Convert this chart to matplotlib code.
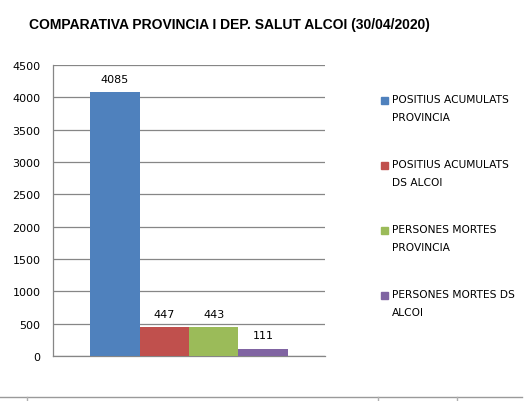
import numpy as np
import matplotlib.pyplot as plt
from matplotlib.patches import Rectangle
from matplotlib.lines import Line2D

# dades
series = ["POSITIUS ACUMULATS\nPROVINCIA", "POSITIUS ACUMULATS\nDS ALCOI",
          "PERSONES MORTES\nPROVINCIA", "PERSONES MORTES DS\nALCOI"]
values = [4085, 447, 443, 111]
colors = ["#4F81BD", "#C0504D", "#9BBB59", "#8064A2"]
yticks = [0, 500, 1000, 1500, 2000, 2500, 3000, 3500, 4000, 4500]

W, H = 531, 402
fig = plt.figure(figsize=(W / 100, H / 100), dpi=100)
ax = fig.add_axes([53 / W, 1 - 357 / H, 272 / W, 291 / H])

offsets = np.arange(len(values)) - (len(values) - 1) / 2
bars = ax.bar(offsets, values, width=1.0, color=colors, zorder=3)
for b, v in zip(bars, values):
    ax.annotate(str(v), (b.get_x() + b.get_width() / 2, v), xytext=(0, 6),
                textcoords="offset points", ha="center", va="bottom", fontsize=8)

ax.set_xlim(-2.75, 2.75)
ax.set_ylim(0, 4500)
ax.set_yticks(yticks)
ax.set_xticks([])
ax.tick_params(axis="y", length=0, labelsize=8, pad=9)
ax.grid(axis="y", color="#868686", linewidth=0.9, zorder=0)
for s in ["top", "right"]:
    ax.spines[s].set_visible(False)
for s in ["left", "bottom"]:
    ax.spines[s].set_color("#868686")
    ax.spines[s].set_linewidth(0.9)

fig.text(29 / W, 1 - 25 / H, "COMPARATIVA PROVINCIA I DEP. SALUT ALCOI (30/04/2020)",
         fontsize=10, fontweight="bold", family="Liberation Sans", va="center", ha="left")

# llegenda manual (quadre alineat amb la primera línia)
for i, (lab, c) in enumerate(zip(series, colors)):
    y = 101 + 65 * i
    fig.add_artist(Rectangle((381 / W, 1 - (y + 3.5) / H), 7 / W, 7 / H,
                             transform=fig.transFigure, color=c))
    fig.text(392 / W, 1 - (y - 6) / H, lab, fontsize=7.7, va="top", ha="left",
             linespacing=1.95)

# línia inferior del full
fig.add_artist(Line2D([0, 522 / W], [1 - 398 / H] * 2, transform=fig.transFigure,
                      color="#9a9a9a", linewidth=1))
for xt in [27, 378, 457]:
    fig.add_artist(Line2D([xt / W] * 2, [1 - 398 / H, 1 - 402 / H],
                          transform=fig.transFigure, color="#b0b0b0", linewidth=1))

fig.savefig("out.png", dpi=100)
